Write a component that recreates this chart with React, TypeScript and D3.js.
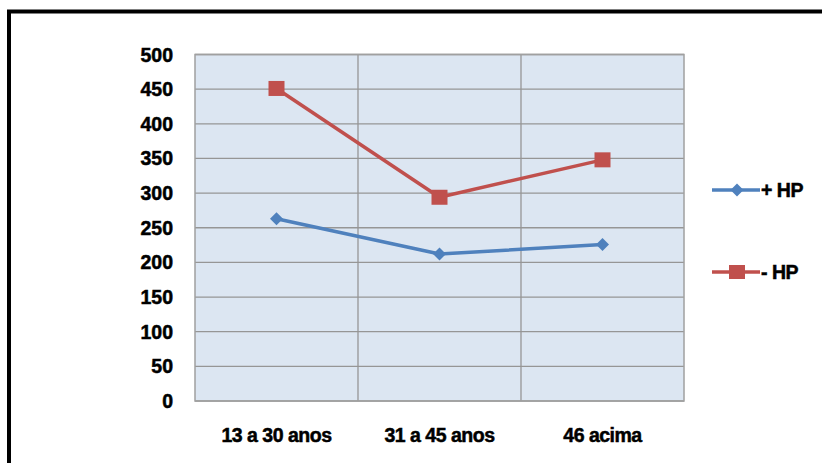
import React from "react";
import * as d3 from "d3";

const categories = ["13 a 30 anos", "31 a 45 anos", "46 acima"];
const plusHP = [263, 212, 226];
const minusHP = [451, 294, 348];
const yTicks = [0, 50, 100, 150, 200, 250, 300, 350, 400, 450, 500];
const seriesNames = ["+ HP", "- HP"];

const W = 822;
const H = 463;
const plot = { left: 195, right: 684, top: 54.5, bottom: 401 };
const BLUE = "#4F81BD";
const RED = "#C0504D";
const FONT = "'Liberation Sans', Arial, sans-serif";

const labelStyle = {
  fontFamily: FONT,
  fontWeight: "bold" as const,
  fontSize: 19.5,
  stroke: "#000",
  strokeWidth: 0.5,
  fill: "#000",
};

export default function App() {
  const x = d3
    .scaleBand<string>()
    .domain(categories)
    .range([plot.left, plot.right])
    .padding(0);
  const y = d3.scaleLinear().domain([0, 500]).range([plot.bottom, plot.top]);
  const cx = (c: string) => (x(c) as number) + x.bandwidth() / 2;

  const line = d3
    .line<number>()
    .x((_, i) => cx(categories[i]))
    .y((d) => y(d));

  const diamond = (px: number, py: number, r: number) =>
    `M${px},${py - r}L${px + r},${py}L${px},${py + r}L${px - r},${py}Z`;

  const legendY = [190, 272];

  return (
    <svg
      width={W}
      height={H}
      style={{ position: "absolute", left: 0, top: 0, background: "#fff" }}
    >
      {/* outer frame */}
      <rect x={9} y={11.5} width={W + 20} height={H + 20} fill="none" stroke="#000" strokeWidth={4} />

      {/* plot area */}
      <rect
        x={plot.left}
        y={plot.top}
        width={plot.right - plot.left}
        height={plot.bottom - plot.top}
        fill="#DCE6F2"
      />
      {yTicks.map((t) => (
        <line
          key={"h" + t}
          x1={plot.left}
          x2={plot.right}
          y1={y(t)}
          y2={y(t)}
          stroke="#969696"
          strokeWidth={1.3}
        />
      ))}
      {categories.map((c, i) =>
        i === 0 ? null : (
          <line
            key={"v" + c}
            x1={x(c) as number}
            x2={x(c) as number}
            y1={plot.top}
            y2={plot.bottom}
            stroke="#969696"
            strokeWidth={1.3}
          />
        )
      )}
      <rect
        x={plot.left}
        y={plot.top}
        width={plot.right - plot.left}
        height={plot.bottom - plot.top}
        fill="none"
        stroke="#a0a0a0"
        strokeWidth={1.5}
      />

      {/* y tick labels */}
      {yTicks.map((t) => (
        <text key={"yl" + t} x={173} y={y(t)} dy="0.36em" textAnchor="end" {...labelStyle}>
          {t}
        </text>
      ))}

      {/* x tick labels */}
      {categories.map((c) => (
        <text key={"xl" + c} x={cx(c)} y={442} textAnchor="middle" letterSpacing={-0.5} {...labelStyle}>
          {c}
        </text>
      ))}

      {/* series */}
      <path d={line(plusHP) || ""} fill="none" stroke={BLUE} strokeWidth={3.5} strokeLinejoin="round" />
      {plusHP.map((v, i) => (
        <path key={"pm" + i} d={diamond(cx(categories[i]), y(v), 6.5)} fill={BLUE} />
      ))}
      <path d={line(minusHP) || ""} fill="none" stroke={RED} strokeWidth={3.5} strokeLinejoin="round" />
      {minusHP.map((v, i) => (
        <rect
          key={"mm" + i}
          x={cx(categories[i]) - 8}
          y={y(v) - 7.5}
          width={16}
          height={15}
          fill={RED}
        />
      ))}

      {/* legend */}
      <line x1={712} x2={760} y1={legendY[0]} y2={legendY[0]} stroke={BLUE} strokeWidth={3.5} />
      <path d={diamond(737, legendY[0], 6.5)} fill={BLUE} />
      <text x={761} y={legendY[0]} dy="0.36em" letterSpacing={-0.5} {...labelStyle}>
        {seriesNames[0]}
      </text>
      <line x1={712} x2={760} y1={legendY[1]} y2={legendY[1]} stroke={RED} strokeWidth={3.5} />
      <rect x={729} y={legendY[1] - 7} width={16} height={14} fill={RED} />
      <text x={761} y={legendY[1]} dy="0.36em" letterSpacing={-0.5} {...labelStyle}>
        {seriesNames[1]}
      </text>
    </svg>
  );
}
